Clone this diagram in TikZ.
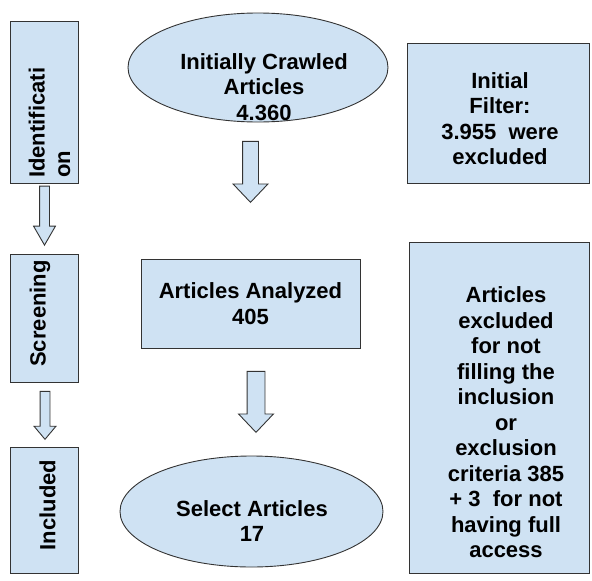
\documentclass[tikz,border=0pt]{standalone}
\usepackage{fontspec}
\setmainfont{Liberation Sans}
\usetikzlibrary{shapes.geometric,shapes.arrows}
\definecolor{boxblue}{HTML}{CFE2F3}
\definecolor{boxline}{HTML}{333333}

\begin{document}
\begin{tikzpicture}[x=1pt,y=-1pt,
  every node/.style={font=\bfseries\fontsize{22}{25.5}\selectfont,inner sep=0pt},
  box/.style={draw=boxline,fill=boxblue,line width=0.9pt},
  sidetext/.style={rotate=90},
  blockarrow/.style={single arrow,draw=boxline,fill=boxblue,line width=0.9pt,
    inner xsep=0pt,minimum width=0pt,rotate=-90,anchor=tip}]
\useasboundingbox (0,0) rectangle (592,581);
%\draw[help lines] (0,0) grid[step=50] (592,581);
% phases on the left
\node(ident) at (44,102)[box,minimum width=68pt,minimum height=162pt] {};
\node(screen) at (44,318)[box,minimum width=68pt,minimum height=128pt] {};
\node(incl) at (44,510)[box,minimum width=68pt,minimum height=126pt] {};
\node(identtxt) at (49.5,178)[sidetext,anchor=west,align=left] {Identificati\\on};
\node(screentxt) at (40,313.5)[sidetext] {Screening};
\node(incltxt) at (47.5,505)[sidetext] {Included};
\node(a1) at (44.5,246)[blockarrow,minimum height=59pt,inner ysep=4.5pt,
  single arrow head extend=6pt,single arrow tip angle=60] {};
\node(a2) at (45,440)[blockarrow,minimum height=48pt,inner ysep=4.5pt,
  single arrow head extend=6pt,single arrow tip angle=80] {};
% middle column
\node(crawled) at (258,67.5)[box,ellipse,minimum width=260pt,minimum height=109pt] {};
\node(crawledtxt) at (264,87)[align=center] {Initially Crawled\\Articles\\4.360};
\node(a3) at (250.5,203)[blockarrow,minimum height=61pt,inner ysep=7.5pt,
  single arrow head extend=9.5pt,single arrow tip angle=87] {};
\node(analyzed) at (250.5,303.5)[box,minimum width=219pt,minimum height=89pt,align=center] {Articles Analyzed\\405};
\node(a4) at (256,433)[blockarrow,minimum height=61pt,inner ysep=8.5pt,
  single arrow head extend=8.5pt,single arrow tip angle=87] {};
\node(select) at (251.5,511.5)[box,ellipse,minimum width=263pt,minimum height=111pt] {};
\node(selecttxt) at (252,521)[align=center] {Select Articles\\17};
% exclusions on the right
\node(filter) at (498,113)[box,minimum width=182pt,minimum height=140pt] {};
\node(filtertxt) at (500,118.5)[align=center] {Initial\\Filter:\\3.955 \ were\\excluded};
\node(excl) at (499,407.5)[box,minimum width=180pt,minimum height=331pt] {};
\node(excltxt) at (506,422.5)[align=center] {Articles\\excluded\\for not\\filling the\\inclusion\\or\\exclusion\\criteria 385\\+ 3 \ for not\\having full\\access};
\end{tikzpicture}
\end{document}
